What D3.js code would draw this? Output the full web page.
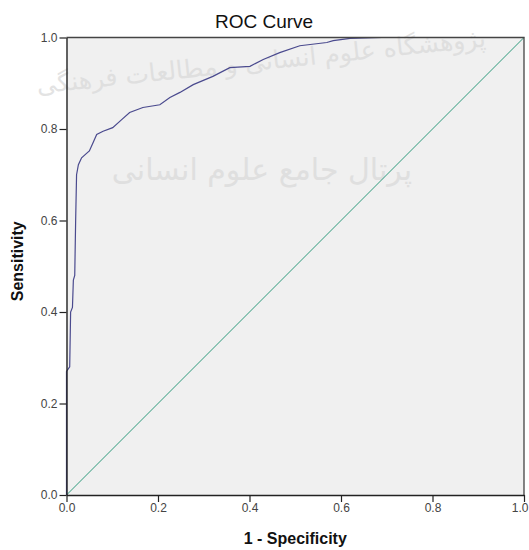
<!DOCTYPE html>
<html>
<head>
<meta charset="utf-8">
<script src="https://cdn.jsdelivr.net/npm/d3@7"></script>
<style>
  body { margin: 0; background: #fff; }
  svg { display: block; }
</style>
</head>
<body>
<div id="chart"></div>
<script>
// ROC curve values (1 - specificity, sensitivity)
const fpr = [0, 0, 0.007, 0.009, 0.013, 0.015, 0.018, 0.02, 0.022, 0.026, 0.033, 0.042,
  0.05, 0.058, 0.066, 0.08, 0.101, 0.12, 0.138, 0.167, 0.204, 0.226, 0.248, 0.277,
  0.32, 0.357, 0.401, 0.43, 0.466, 0.51, 0.569, 0.583, 0.62, 0.69, 1];
const tpr = [0, 0.27, 0.28, 0.40, 0.41, 0.47, 0.48, 0.60, 0.70, 0.722, 0.737, 0.745,
  0.752, 0.77, 0.788, 0.795, 0.803, 0.82, 0.836, 0.847, 0.853, 0.869, 0.88, 0.897,
  0.915, 0.934, 0.937, 0.952, 0.967, 0.982, 0.989, 0.993, 0.998, 1, 1];
const refLine = [[0, 0], [1, 1]];
const ticks = [0, 0.2, 0.4, 0.6, 0.8, 1.0];

const W = 529, H = 550;
const M = { top: 37.5, left: 66.5, right: 5, bottom: 55 };
const FONT = 'Arial, "Liberation Sans", Helvetica, sans-serif';

const svg = d3.select('#chart').append('svg')
  .attr('width', W).attr('height', H)
  .attr('viewBox', `0 0 ${W} ${H}`);

const x = d3.scaleLinear().domain([0, 1]).range([M.left, W - M.right]);
const y = d3.scaleLinear().domain([0, 1]).range([H - M.bottom, M.top]);

// Plot background
svg.append('rect')
  .attr('x', x(0)).attr('y', y(1))
  .attr('width', x(1) - x(0)).attr('height', y(0) - y(1))
  .attr('fill', '#f0f0f0');

// Faint watermark text
svg.append('text')
  .attr('transform', `translate(262,70) rotate(-6)`)
  .attr('text-anchor', 'middle')
  .attr('font-size', 25).attr('font-family', '"DejaVu Sans", sans-serif')
  .attr('fill', '#d8d8d8').attr('opacity', 0.7)
  .text('پژوهشگاه علوم انسانی و مطالعات فرهنگی');
svg.append('text')
  .attr('x', 262).attr('y', 180)
  .attr('text-anchor', 'middle')
  .attr('font-size', 30).attr('font-family', '"DejaVu Sans", sans-serif')
  .attr('fill', '#d8d8d8').attr('opacity', 0.7)
  .text('پرتال جامع علوم انسانی');

// Reference diagonal
svg.append('path')
  .datum(refLine)
  .attr('d', d3.line().x(d => x(d[0])).y(d => y(d[1])))
  .attr('fill', 'none')
  .attr('stroke', '#2f9a7c')
  .attr('stroke-width', 1);

// ROC curve
svg.append('path')
  .datum(d3.zip(fpr, tpr))
  .attr('d', d3.line().x(d => x(d[0])).y(d => y(d[1])))
  .attr('fill', 'none')
  .attr('stroke', '#4a4a8e')
  .attr('stroke-width', 1.2);

// Frame top / right
svg.append('path')
  .attr('d', `M${x(0)},${y(1)}H${x(1)}V${y(0)}`)
  .attr('fill', 'none').attr('stroke', '#444').attr('stroke-width', 1.3);

// Axes
const xAxis = svg.append('g')
  .attr('transform', `translate(0,${y(0)})`)
  .call(d3.axisBottom(x).tickValues(ticks).tickFormat(d3.format('.1f')).tickSizeInner(7).tickSizeOuter(0));
const yAxis = svg.append('g')
  .attr('transform', `translate(${x(0)},0)`)
  .call(d3.axisLeft(y).tickValues(ticks).tickFormat(d3.format('.1f')).tickSizeInner(7).tickSizeOuter(0));

[xAxis, yAxis].forEach(g => {
  g.select('.domain').attr('stroke', '#222').attr('stroke-width', 1.4);
  g.selectAll('.tick line').attr('stroke', '#222').attr('stroke-width', 1.2);
  g.selectAll('.tick text')
    .attr('font-size', 12).attr('font-family', FONT).attr('fill', '#444');
});
xAxis.selectAll('.tick text').attr('dy', '0.6em');
// last x label would run past the page edge; keep it inside
xAxis.selectAll('.tick text').filter(d => d === 1).attr('text-anchor', 'end').attr('x', 4);
yAxis.selectAll('.tick text').attr('x', -9);

// Title
svg.append('text')
  .attr('x', 264).attr('y', 28)
  .attr('text-anchor', 'middle')
  .attr('font-size', 19).attr('font-family', FONT)
  .attr('fill', '#111')
  .text('ROC Curve');

// Axis titles
svg.append('text')
  .attr('x', (x(0) + x(1)) / 2).attr('y', 544)
  .attr('text-anchor', 'middle')
  .attr('font-size', 16).attr('font-weight', 'bold').attr('font-family', FONT)
  .attr('fill', '#111')
  .text('1 - Specificity');

svg.append('text')
  .attr('transform', `translate(23,${(y(0) + y(1)) / 2 - 5}) rotate(-90)`)
  .attr('text-anchor', 'middle')
  .attr('font-size', 16).attr('font-weight', 'bold').attr('font-family', FONT)
  .attr('fill', '#111')
  .text('Sensitivity');
</script>
</body>
</html>
